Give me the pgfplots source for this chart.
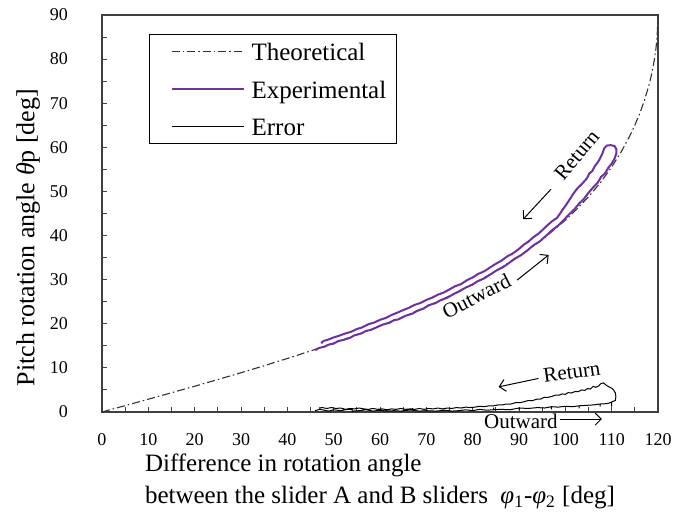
\documentclass[border=0pt]{standalone}
\usepackage{fontspec}
\setmainfont{Liberation Serif}
\usepackage{pgfplots}
\pgfplotsset{compat=1.18}
\usetikzlibrary{arrows.meta}

\definecolor{exppurple}{HTML}{7030A0}

\begin{document}
\begin{tikzpicture}
\begin{axis}[
  name=ax,
  width=278pt, height=198.5pt, scale only axis,
  xmin=0, xmax=120, ymin=0, ymax=90,
  xtick={0,10,...,120}, minor xtick={5,15,...,115},
  ytick={0,10,...,90}, minor ytick={5,15,...,85},
  tick align=inside, tick pos=left,
  major tick length=2.5pt, minor tick length=2.5pt,
  axis line style={line width=0.75pt, black!75},
  every tick/.style={black!75, line width=0.5pt},
  tick label style={font=\fontsize{9}{11}\selectfont},
  xticklabel style={yshift=-7pt},
  yticklabel style={xshift=-13.5pt},
  /pgf/number format/assume math mode=true,
  xlabel={Difference in rotation angle\\between the slider A and B sliders\ \ \textit{φ}\textsubscript{1}-\textit{φ}\textsubscript{2} [deg]},
  xlabel style={align=left, font=\fontsize{12.5}{16}\selectfont, inner sep=0pt,
    at={([yshift=-21pt]rel axis cs:0.5,0)}, anchor=north},
  ylabel={Pitch rotation angle \textit{θ}p [deg]},
  ylabel style={font=\fontsize{13}{15}\selectfont, inner sep=0pt,
    at={([xshift=-37pt,yshift=-12pt]rel axis cs:0,0.5)}, anchor=center},
  clip=false,
  legend cell align=left,
  legend image code/.code={\path (0pt,0pt); \draw[#1] (5.5pt,0pt) -- (41.5pt,0pt); \path (45pt,0pt);},
  legend style={at={(0.0845,0.952)}, anchor=north west, draw=black, line width=0.6pt,
    font=\fontsize{12.5}{14}\selectfont, row sep=9.75pt, inner xsep=5pt, inner ysep=4pt,
    nodes={inner sep=0pt, text height=9pt, text depth=0pt}},
]

% Theoretical
\addplot[black!80, line width=0.55pt, dash pattern=on 4pt off 1.5pt on 0.8pt off 1.5pt] coordinates {
(0,0) (5,1.444) (10,2.895) (15,4.359) (20,5.843) (25,7.354) (30,8.900) (35,10.488)
(40,12.130) (45,13.837) (50,15.618) (55,17.490) (60,19.471) (65,21.581) (70,23.846)
(75,26.297) (80,28.975) (85,31.940) (90,35.264) (95,39.055) (100,43.478) (102.5,46.017)
(105,48.805) (107.5,51.891) (110,55.541) (112,58.874) (114,62.771) (115,65.022)
(116,67.511) (117,70.399) (118,73.90) (118.5,76.04) (119,78.56) (119.5,81.89)
(119.8,84.86) (120,90)
};
\addlegendentry{Theoretical}

% Experimental (outward then return)
\addplot[exppurple, line width=1pt] coordinates {
(46.0,14.0) (46.8,14.5) (48.0,14.8) (49.0,15.3) (50.0,15.5) (51.0,16.1) (52.0,16.3)
(53.5,16.8) (54.5,17.4) (56.0,17.8) (57.0,18.4) (58.0,18.6) (59.5,19.3) (60.5,19.8)
(62.0,20.2) (63.0,20.8) (64.0,21.0) (65.5,21.8) (67.0,22.3) (68.0,22.9) (69.5,23.5)
(70.5,24.2) (72.0,24.7) (73.0,25.3) (74.5,25.9) (76.0,26.8) (77.0,27.3) (78.5,28.2)
(80.0,28.9) (81.0,29.6) (82.5,30.3) (84.0,31.3) (85.0,32.0) (86.5,32.8) (88.0,33.9)
(89.0,34.7) (90.5,35.6) (92.0,36.8) (93.0,37.7) (94.5,38.7) (96.0,40.1) (97.0,41.1)
(98.5,42.3) (100.0,43.9) (101.0,45.0) (102.0,46.0) (103.0,47.3) (104.0,48.3)
(105.0,49.7) (106.0,50.9) (107.0,52.0) (107.7,53.3) (108.5,54.0) (109.3,55.4)
(110.0,56.3) (110.6,57.4) (111.0,58.6) (111.0,59.6) (110.6,60.3) (109.8,60.5)
(109.0,60.4) (108.4,59.8)
(108.0,58.6) (107.4,57.3) (107.0,56.6) (106.4,55.8) (105.8,54.6) (105.2,54.1)
(104.6,52.9) (104.0,52.2) (103.4,51.5) (102.6,50.7) (101.8,49.6) (101.0,48.3)
(100.2,47.0) (99.5,46.0) (98.8,44.9) (98.2,44.0) (97.2,43.3) (96.2,42.4) (95.3,41.5)
(94.3,40.5) (93.2,39.7) (92.0,38.6) (91.0,37.9) (89.8,36.8) (88.6,35.9) (87.5,35.3)
(86.2,34.3) (85.0,33.6) (83.8,32.8) (82.5,31.9) (81.2,31.3) (80.0,30.5) (78.8,29.9)
(77.5,29.0) (76.2,28.5) (75.0,27.8) (73.8,27.1) (72.5,26.6) (71.2,25.9) (70.0,25.4)
(68.7,24.7) (67.5,24.3) (66.2,23.6) (65.0,23.1) (63.7,22.5) (62.5,22.0) (61.2,21.3)
(60.0,20.9) (58.8,20.3) (57.5,19.9) (56.2,19.2) (55.0,18.8) (53.8,18.2) (52.5,17.8)
(51.2,17.3) (50.0,16.9) (48.8,16.4) (47.8,16.1) (47.3,15.6)
};
\addlegendentry{Experimental}

% Error
\addplot[black, line width=0.5pt] coordinates {
(46.0,0.3) (47.0,0.6) (48.0,0.4) (49.0,0.2) (50.0,0.5) (51.5,0.3) (53.0,0.6) (54.0,0.6)
(54.0,0.2) (55.5,0.3) (57.0,0.5) (58.5,0.2) (60.0,0.4) (61.5,0.2) (63.0,0.3) (64.5,0.2)
(66.0,0.4) (67.0,0.4) (67.0,0.9) (67.0,0.4) (68.5,0.2) (70.0,0.3) (72.0,0.2) (74.0,0.4)
(75.5,0.2) (77.0,0.3) (78.5,0.5) (80.0,0.3) (81.5,0.6) (83.0,0.4) (84.5,0.5) (84.5,1.0)
(84.5,0.5) (86.0,0.6) (88.0,0.5) (90.0,0.9) (90.0,0.4) (90.0,0.9) (92.0,0.8) (94.0,1.0)
(95.5,0.9) (97.0,1.2) (97.0,0.6) (97.0,1.2) (98.5,1.1) (100.0,1.3) (101.5,1.2)
(103.0,1.4) (103.0,0.8) (103.0,1.4) (104.5,1.5) (106.0,1.6) (107.5,1.8) (107.5,1.2)
(107.5,1.8) (109.0,1.9) (110.0,2.2) (110.0,1.2) (110.0,2.3) (110.8,2.6) (110.9,3.5)
(110.8,4.3) (110.4,5.0) (110.0,5.4) (109.4,5.7) (108.8,6.1) (108.2,6.6) (107.6,6.4)
(107.2,5.9) (106.6,5.6) (106.0,5.8) (105.4,5.2) (104.8,5.3) (104.2,4.9) (103.5,5.0)
(102.8,4.6) (102.0,4.6) (101.3,4.3) (100.6,4.4) (100.0,4.0) (99.3,4.1) (98.6,3.8)
(97.8,3.8) (97.0,3.5) (96.2,3.3) (95.4,3.3) (94.6,2.9) (93.8,2.9) (93.0,2.6) (92.0,2.6)
(91.0,2.3) (90.2,2.1) (89.2,2.1) (88.2,1.8) (87.2,1.8) (86.4,1.6) (85.5,1.6) (84.5,1.4)
(83.5,1.4) (82.5,1.2) (81.5,1.3) (80.5,1.1) (79.5,1.0) (78.5,1.1) (77.5,0.9) (76.5,1.0)
(75.5,0.8) (74.5,0.9) (73.5,0.7) (72.5,0.9) (71.5,0.7) (70.5,0.8) (69.5,0.6) (68.5,0.8)
(67.5,0.6) (66.5,0.7) (65.5,0.6) (64.5,0.8) (63.5,0.6) (62.5,0.7) (61.5,0.5) (60.5,0.7)
(59.5,0.6) (58.5,0.8) (57.5,0.6) (56.5,0.7) (55.5,0.9) (54.5,0.7) (53.5,0.8) (52.5,0.6)
(51.5,0.9) (50.5,0.8) (49.5,1.0) (48.5,0.8) (47.5,1.0) (46.8,0.9)
};
\addlegendentry{Error}

% annotations
\node[font=\fontsize{10.5}{12}\selectfont, rotate=50] at (axis cs:102.5,58.3) {Return};
\draw[line width=0.5pt, -{Straight Barb[length=3pt,width=6pt]}] (axis cs:96.9,50.5) -- (axis cs:90.9,43.7);
\node[font=\fontsize{10.5}{12}\selectfont, rotate=27] at (axis cs:80.8,26.3) {Outward};
\draw[line width=0.5pt, -{Straight Barb[length=3pt,width=6pt]}] (axis cs:89.6,29.9) -- (axis cs:96.4,35.6);
\node[font=\fontsize{10.5}{12}\selectfont, rotate=8] at (axis cs:101.4,9.1) {Return};
\draw[line width=0.5pt, -{Straight Barb[length=3pt,width=6pt]}] (axis cs:94.2,7.6) -- (axis cs:85.6,5.7);
\node[font=\fontsize{10.5}{12}\selectfont] at (axis cs:90.4,-2.2) {Outward};
\draw[line width=0.5pt, -{Straight Barb[length=3pt,width=6pt]}] (axis cs:98.9,-1.6) -- (axis cs:107.9,-1.6);
\end{axis}
\pgfresetboundingbox
\path[use as bounding box] ([shift={(-51pt,-54pt)}]ax.south west) rectangle ([shift={(21pt,7.5pt)}]ax.north east);
\end{tikzpicture}
\end{document}
